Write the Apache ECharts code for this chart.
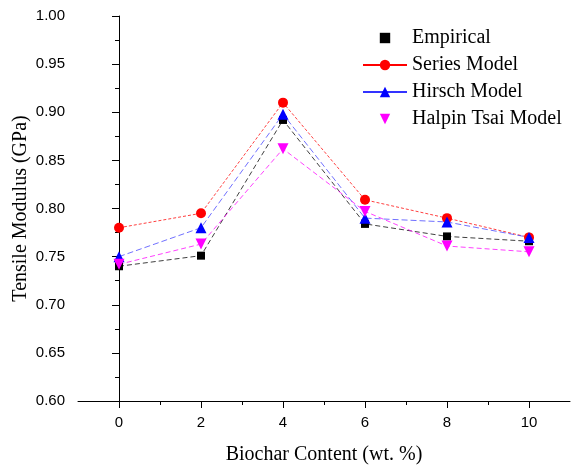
<!DOCTYPE html>
<html><head><meta charset="utf-8">
<script src="https://cdn.jsdelivr.net/npm/echarts@6/dist/echarts.min.js"></script>
<style>html,body{margin:0;padding:0;background:#fff}#c{width:571px;height:466px}</style>
</head><body><div id="c"></div>
<script>
const biochar = [0, 2, 4, 6, 8, 10];
const empirical = [0.740, 0.751, 0.892, 0.784, 0.771, 0.766];
const seriesModel = [0.780, 0.795, 0.910, 0.809, 0.790, 0.770];
const hirschModel = [0.750, 0.780, 0.898, 0.790, 0.786, 0.770];
const halpinTsai = [0.742, 0.763, 0.862, 0.797, 0.761, 0.755];
const yTicks = [0.60, 0.65, 0.70, 0.75, 0.80, 0.85, 0.90, 0.95, 1.00];
const xMajor = [0, 2, 4, 6, 8, 10];
const xMinor = [1, 3, 5, 7, 9];

const pair = a => biochar.map((x, i) => [x, a[i]]);
const serif = 'Liberation Serif';
const sans = 'Liberation Sans';

const chart = echarts.init(document.getElementById('c'));
chart.setOption({
  animation: false,
  backgroundColor: '#fff',
  grid: {left: 78, right: 1, top: 16, bottom: 65, outerBoundsMode: 'none', containLabel: false},
  legend: {
    orient: 'vertical', left: 357, top: 23, itemGap: 7, itemWidth: 44, itemHeight: 13,
    textStyle: {fontFamily: serif, fontSize: 20, color: '#000'},
    data: [
      {name: 'Empirical', lineStyle: {opacity: 0}},
      {name: 'Series Model', lineStyle: {type: 'solid', opacity: 1}},
      {name: 'Hirsch Model', lineStyle: {type: 'solid', opacity: 1}},
      {name: 'Halpin Tsai Model', lineStyle: {opacity: 0}}
    ]
  },
  xAxis: [{
    type: 'value', min: -1, max: 11, interval: 1,
    name: 'Biochar Content (wt. %)', nameLocation: 'middle', nameGap: 44, nameMoveOverlap: false,
    nameTextStyle: {fontFamily: serif, fontSize: 20, color: '#000'},
    axisLine: {lineStyle: {color: '#000', width: 1}},
    axisTick: {customValues: xMajor, length: 7, lineStyle: {color: '#000'}},
    axisLabel: {customValues: xMajor, fontFamily: sans, fontSize: 15, color: '#000', margin: 14},
    splitLine: {show: false}
  }, {
    type: 'value', min: -1, max: 11, interval: 1, position: 'bottom',
    axisLine: {show: false},
    axisTick: {customValues: xMinor, length: 4, lineStyle: {color: '#000'}},
    axisLabel: {show: false},
    splitLine: {show: false}
  }],
  yAxis: {
    type: 'value', min: 0.6, max: 1.0, interval: 0.05,
    name: 'Tensile Modulus (GPa)', nameLocation: 'middle', nameGap: 47, nameMoveOverlap: false,
    nameTextStyle: {fontFamily: serif, fontSize: 20, color: '#000'},
    axisLine: {show: true, lineStyle: {color: '#000', width: 1}},
    axisTick: {show: true, length: 7, lineStyle: {color: '#000'}},
    minorTick: {show: true, splitNumber: 2, length: 4, lineStyle: {color: '#000'}},
    axisLabel: {fontFamily: sans, fontSize: 15, color: '#000', margin: 13,
      formatter: v => yTicks.some(t => Math.abs(t - v) < 1e-6) ? v.toFixed(2) : ''},
    splitLine: {show: false}
  },
  series: [
    {name: 'Empirical', type: 'line', data: pair(empirical), symbol: 'rect', symbolSize: 8,
     itemStyle: {color: '#000'}, lineStyle: {color: '#000', width: 1, type: [5, 3], opacity: 0.75}},
    {name: 'Series Model', type: 'line', data: pair(seriesModel), symbol: 'circle', symbolSize: 10,
     itemStyle: {color: '#ff0000'}, lineStyle: {color: '#ff0000', width: 1, type: [3, 2], opacity: 0.75}},
    {name: 'Hirsch Model', type: 'line', data: pair(hirschModel), symbol: 'triangle', symbolSize: 11,
     itemStyle: {color: '#0000ff'}, lineStyle: {color: '#3333ff', width: 1, type: [6, 3], opacity: 0.7}},
    {name: 'Halpin Tsai Model', type: 'line', data: pair(halpinTsai), symbol: 'triangle', symbolRotate: 180, symbolSize: 11,
     itemStyle: {color: '#ff00ff'}, lineStyle: {color: '#ff00ff', width: 1, type: [5, 3], opacity: 0.75}}
  ]
});
</script></body></html>
